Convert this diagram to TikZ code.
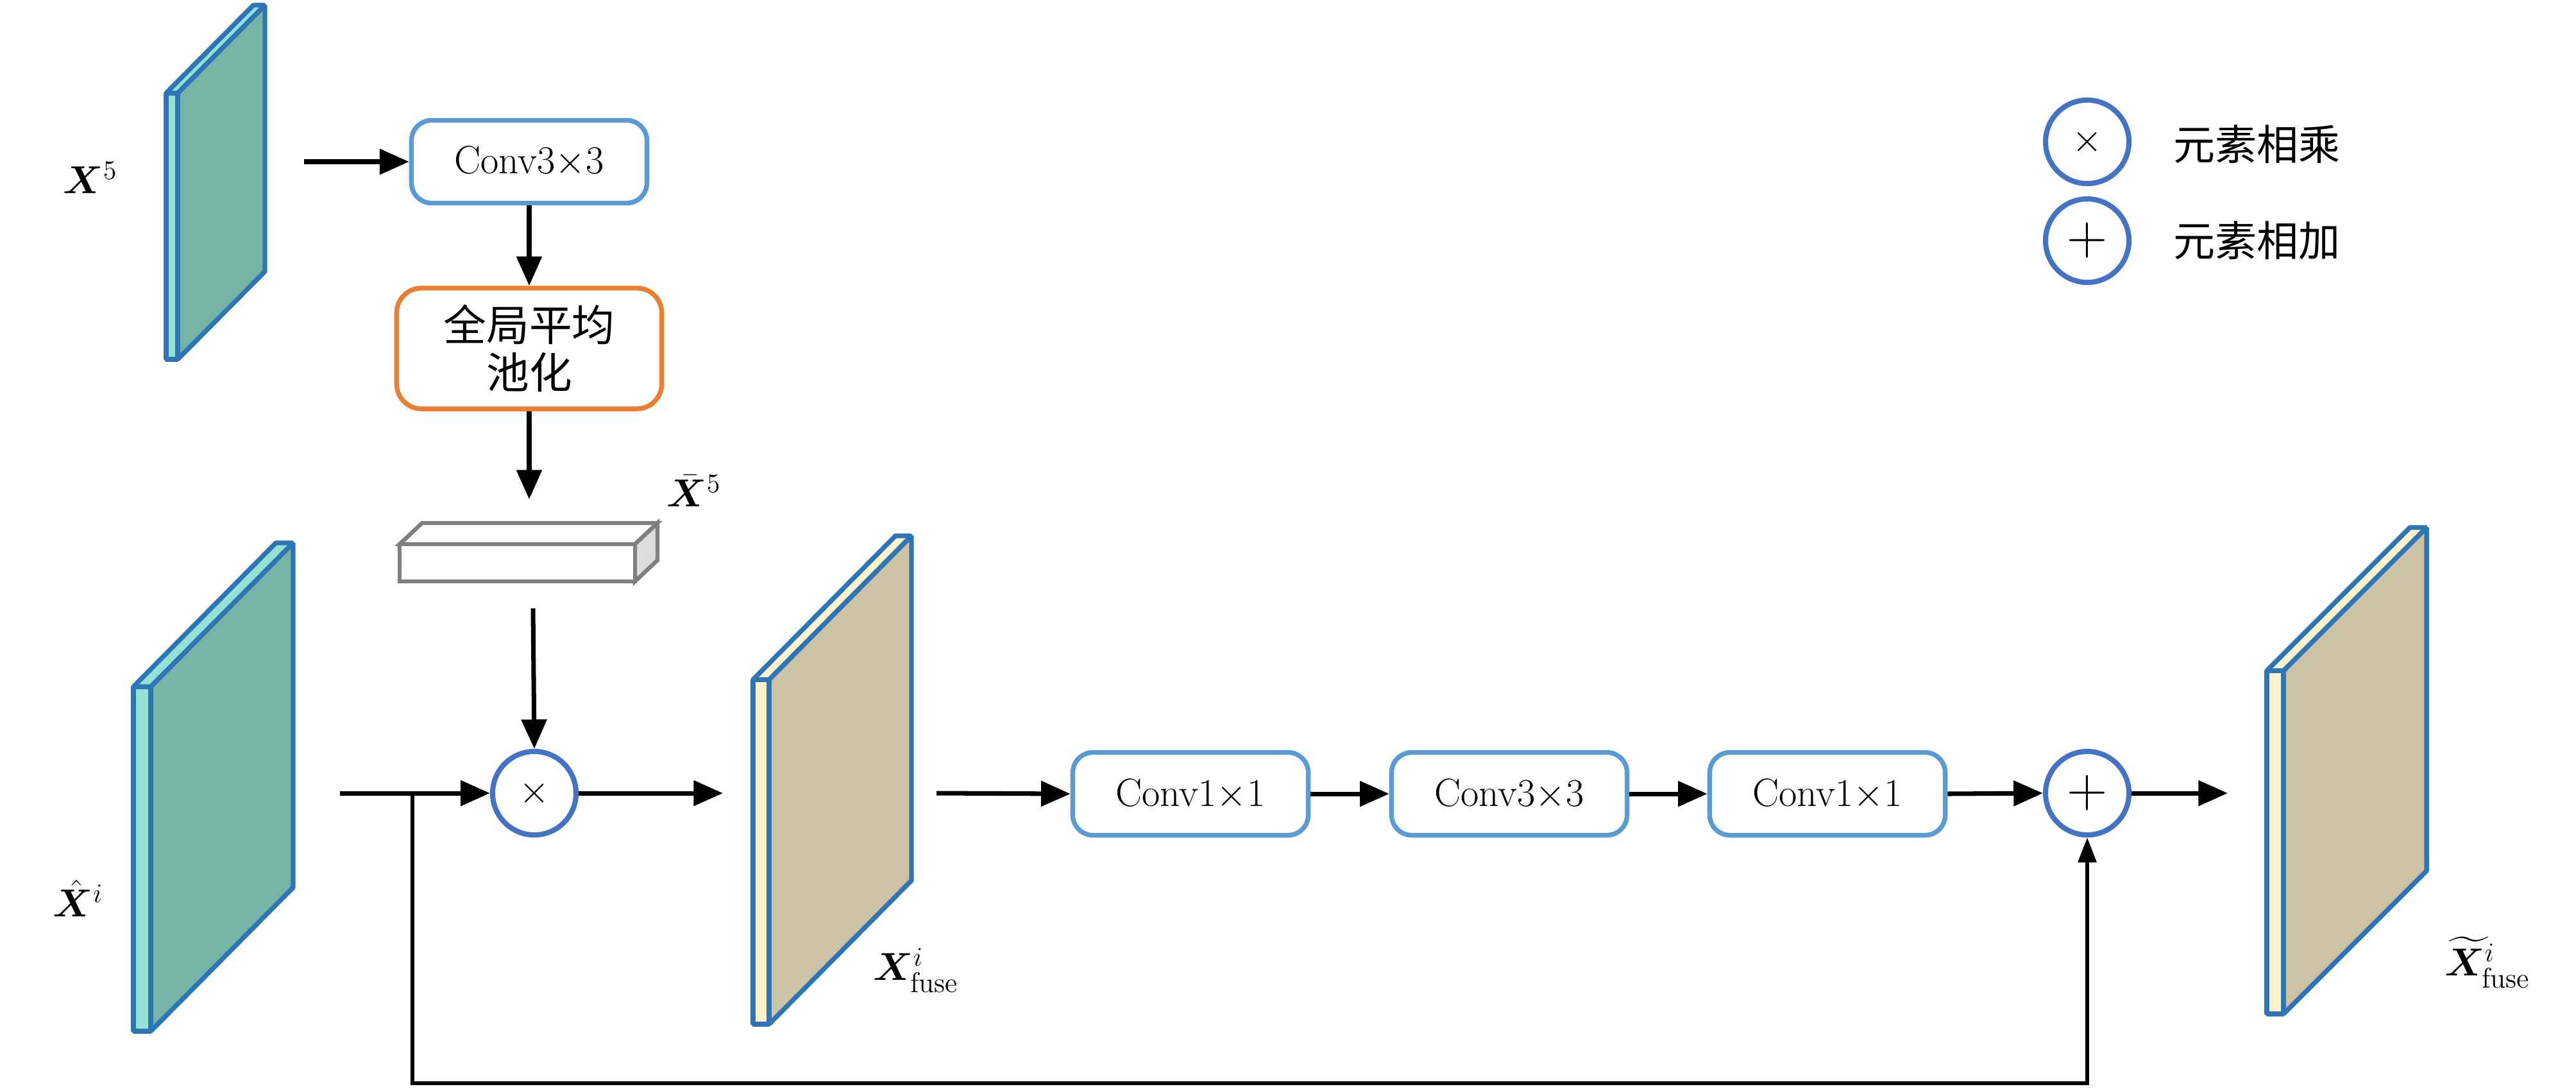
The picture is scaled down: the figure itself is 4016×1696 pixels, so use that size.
\documentclass[tikz,border=0pt]{standalone}
\usepackage{amsmath}
\usepackage{bm}
\usepackage{fontspec}
\newfontfamily\cjk{Noto Sans CJK SC}
\usetikzlibrary{arrows.meta}
\definecolor{boxblue}{HTML}{5B9BD5}
\definecolor{boxorange}{HTML}{ED7D31}
\definecolor{circblue}{HTML}{4472C4}
\definecolor{plateedge}{HTML}{2E75B6}
\definecolor{tealface}{HTML}{76B5A5}
\definecolor{tealstrip}{HTML}{95E1D3}
\definecolor{tanface}{HTML}{CCC3A5}
\definecolor{tanstrip}{HTML}{FFF2CC}
\definecolor{bargray}{HTML}{7F7F7F}
\definecolor{barside}{HTML}{DDDDDD}
\newcommand\fmap[8]{%
  \filldraw[plateline, fill=#7] (#2,#4) -- (#3,#4-#6) -- (#3,#5-#6) -- (#2,#5) -- cycle;
  \filldraw[plateline, fill=#8] (#1,#4) -- (#2,#4) -- (#2,#5) -- (#1,#5) -- cycle;
  \filldraw[plateline, fill=#8] (#1,#4) -- ({#1+#3-#2},#4-#6) -- (#3,#4-#6) -- (#2,#4) -- cycle;
}
\tikzset{
  plateline/.style={draw=plateedge, line width=2.1pt, line join=bevel},
  convbox/.style={draw=boxblue, line width=2.1pt, rounded corners=9pt, fill=white,
    minimum width=3.67cm, minimum height=1.29cm, inner sep=0pt,
    font=\fontsize{17.5}{20}\selectfont},
  poolbox/.style={draw=boxorange, line width=2.1pt, rounded corners=11pt, fill=white,
    minimum width=4.13cm, minimum height=1.88cm, inner sep=0pt, align=center,
    font=\fontsize{19}{21}\selectfont\cjk},
  opcirc/.style={circle, draw=circblue, line width=2.3pt, fill=white,
    minimum size=1.3cm, inner sep=0pt},
  flow/.style={line width=2pt, -{Triangle[length=13pt,width=11pt]}},
  thinflow/.style={line width=1.6pt, -{Triangle[length=11pt,width=8pt]}},
  lbl/.style={font=\fontsize{18}{22}\selectfont, inner sep=0pt},
  legtext/.style={font=\fontsize{18.5}{22}\selectfont\cjk, anchor=west, inner sep=0pt},
}
\begin{document}
\begin{tikzpicture}[x=0.01cm, y=-0.01cm]
\useasboundingbox (0,0) rectangle (4016,1696);

% feature maps
\fmap{259}{277}{413}{145}{560}{137}{tealface}{tealstrip}
\fmap{208}{235}{457}{1070}{1607}{224}{tealface}{tealstrip}
\fmap{1174}{1199}{1421}{1059}{1596}{224}{tanface}{tanstrip}
\fmap{3534}{3560}{3783}{1045}{1580}{223}{tanface}{tanstrip}

% gray bar (pooled vector)
\filldraw[draw=bargray, line width=1.8pt, fill=white, line join=miter]
  (623,848) -- (658,815) -- (1025,815) -- (990,848) -- cycle;
\filldraw[draw=bargray, line width=1.8pt, fill=barside, line join=miter]
  (990,848) -- (1025,815) -- (1025,873) -- (990,906) -- cycle;
\filldraw[draw=bargray, line width=1.8pt, fill=white, line join=miter]
  (623,848) rectangle (990,906);

% labels
\node[lbl] (lx5) at (141,277) {$\boldsymbol{X}^{5}$};
\node[lbl] (lxbar) at (1082,765) {$\bar{\boldsymbol{X}}^{5}$};
\node[lbl] (lxhat) at (122,1400) {$\hat{\boldsymbol{X}}^{i}$};
\node[lbl] (lxfuse) at (1428,1512) {$\boldsymbol{X}^{i}_{\text{fuse}}$};
\node[lbl] (lxtil) at (3878,1500) {$\widetilde{\boldsymbol{X}}^{i}_{\text{fuse}}$};

% boxes
\node[convbox] (c0) at (825,252) {Conv3$\times$3};
\node[poolbox] (gap) at (825,543) {全局平均\\池化};
\node[convbox] (c1) at (1856,1237) {Conv1$\times$1};
\node[convbox] (c2) at (2353,1237) {Conv3$\times$3};
\node[convbox] (c3) at (2849,1237) {Conv1$\times$1};
\node[opcirc, font=\fontsize{16}{18}\selectfont] (mul) at (833,1236) {$\times$};
\node[opcirc, font=\fontsize{26}{28}\selectfont] (sum) at (3254,1236) {$+$};

% legend
\node[opcirc, font=\fontsize{16}{18}\selectfont] (legmul) at (3254,221) {$\times$};
\node[opcirc, font=\fontsize{26}{28}\selectfont] (legsum) at (3254,375) {$+$};
\node[legtext] (legmult) at (3388,225) {元素相乘};
\node[legtext] (legsumt) at (3388,375) {元素相加};

% connector end points
\coordinate (x5out) at (474,252);
\coordinate (gapend) at (825,778);
\coordinate (barout) at (831,948);
\coordinate (xin) at (530,1236);
\coordinate (branch) at (643,1236);
\coordinate (low1) at (643,1688);
\coordinate (low2) at (3254,1688);
\coordinate (mulend) at (1127,1236);
\coordinate (fusein) at (1460,1236);
\coordinate (sumend) at (3473,1236);

% connectors
\draw[flow] (x5out) -- (c0.west);
\draw[flow] (c0.south) -- (gap.north);
\draw[flow] (gap.south) -- (gapend);
\draw[flow] (barout) -- (mul.north);
\draw[flow] (xin) -- (mul.west);
\draw[flow] (mul.east) -- (mulend);
\draw[flow] (fusein) -- (c1.west);
\draw[flow] (c1.east) -- (c2.west);
\draw[flow] (c2.east) -- (c3.west);
\draw[flow] (c3.east) -- (sum.west);
\draw[flow] (sum.east) -- (sumend);
\draw[thinflow] (branch) -- (low1) -- (low2) -- (sum.south);
\end{tikzpicture}
\end{document}
